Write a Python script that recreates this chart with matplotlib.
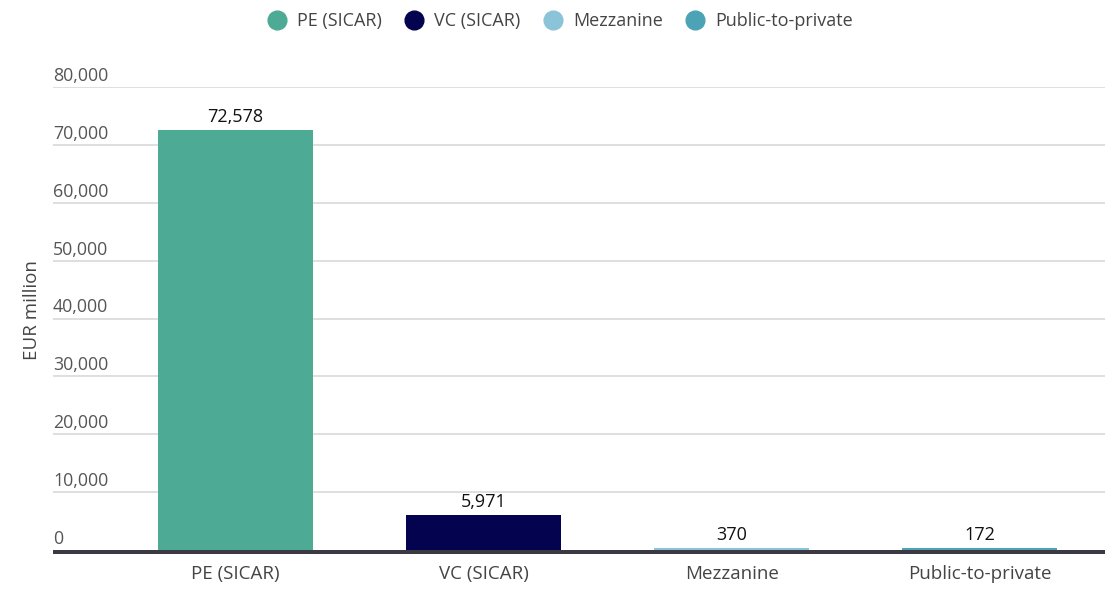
import matplotlib.pyplot as plt
from matplotlib.lines import Line2D
from matplotlib.transforms import blended_transform_factory

plt.rcParams['font.family'] = ['Open Sans', 'DejaVu Sans']

categories = ['PE (SICAR)', 'VC (SICAR)', 'Mezzanine', 'Public-to-private']
values = [72578, 5971, 370, 172]
colors = ['#4daa94', '#03034f', '#8bc4d8', '#4ba3b5']
y_ticks = [0, 10000, 20000, 30000, 40000, 50000, 60000, 70000, 80000]

fig = plt.figure(figsize=(11.12, 5.89), dpi=100)
# axes bottom sits under the thick baseline; y=0 is at pixel row 550
ax = fig.add_axes([0.0477, 0.0594, 0.9460, 0.7929])

unit = 80000 / 463.0  # data units per pixel
min_h = 2.2 * unit      # tiny bars still get drawn a couple of pixels tall

x = list(range(len(categories)))
drawn = [max(v, min_h) for v in values]
ax.bar(x, drawn, width=0.625, color=colors, zorder=3)

for xi, v, h in zip(x, values, drawn):
    ax.annotate(f'{v:,}', (xi, h), xytext=(0, 3), textcoords='offset points',
                ha='center', va='bottom', fontsize=13, color='#111111')

ax.set_xlim(-0.734, 3.504)
ax.set_ylim(-4 * unit, 80000)

# gridlines and left-aligned tick labels sitting on top of them
trans = blended_transform_factory(ax.transAxes, ax.transData)
for t in y_ticks[1:]:
    ax.axhline(t, color='#d9d9d9', lw=1.2, zorder=1)
for t in y_ticks:
    ax.annotate(f'{t:,}', (0, t), xycoords=trans, xytext=(0, 1.5),
                textcoords='offset points', ha='left', va='bottom',
                fontsize=12.8, color='#555555')
ax.axhspan(-3.6 * unit, 0, color='#3b3a42', lw=0, zorder=4)

ax.set_yticks([])
ax.set_xticks(x)
ax.set_xticklabels(categories, fontsize=13.5, color='#444444')
ax.tick_params(axis='x', length=0, pad=8)
for s in ax.spines.values():
    s.set_visible(False)

fig.text(0.029, 0.474, 'EUR million', rotation=90, ha='center', va='center',
         fontsize=13.5, color='#444444')

handles = [Line2D([], [], marker='o', ls='', markersize=13.5, color=c) for c in colors]
fig.legend(handles, categories, loc='center', bbox_to_anchor=(0.5, 0.964),
           ncol=4, frameon=False, fontsize=13, handletextpad=0.1,
           columnspacing=0.8, labelcolor='#444444')

fig.savefig('out.png', dpi=100)
